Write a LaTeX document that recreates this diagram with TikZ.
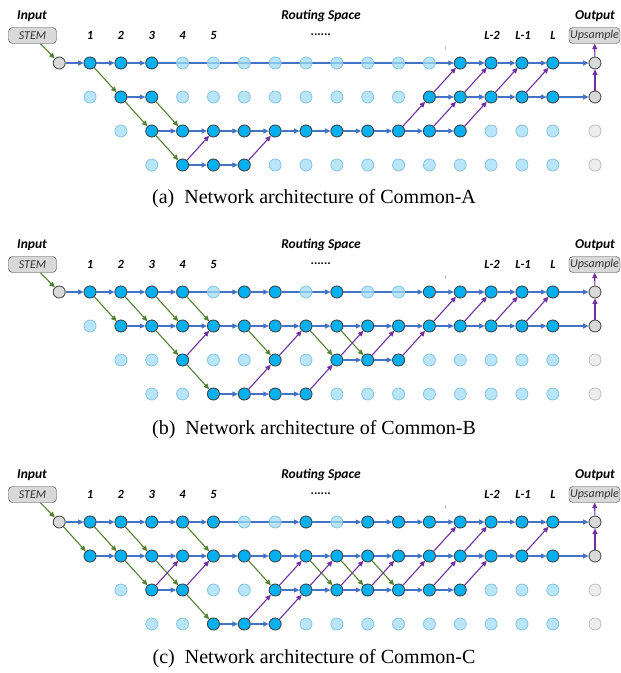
\documentclass[tikz,border=0pt]{standalone}
\usepackage{fontspec}
\setmainfont{Liberation Serif}
\newfontfamily\labelfont{Carlito}
\usetikzlibrary{arrows.meta}

\definecolor{flowblue}{HTML}{4472C4}
\definecolor{downgreen}{HTML}{548235}
\definecolor{uppurple}{HTML}{7030A0}
\definecolor{cellon}{HTML}{00B0F0}
\definecolor{celloff}{HTML}{A0DCF5}
\definecolor{celloffline}{HTML}{86C4E0}

\pgfdeclarelayer{edges}
\pgfsetlayers{edges,main}

\tikzset{
  cell/.style={circle, draw=black!75, line width=0.8pt, fill=cellon,
    minimum size=12pt, inner sep=0pt},
  idle/.style={cell, draw=celloffline, fill=celloff, fill opacity=0.75},
  gate/.style={cell, fill=black!15},
  gateoff/.style={cell, draw=black!25, fill=black!7},
  opbox/.style={draw=black!75, fill=black!15, rounded corners=4pt,
    minimum width=48pt, minimum height=16pt, inner sep=0pt, text=black!80,
    font=\labelfont\itshape\fontsize{12}{13}\selectfont},
  hdr/.style={font=\labelfont\bfseries\itshape\fontsize{13.5}{15}\selectfont},
  colnum/.style={font=\labelfont\bfseries\itshape\fontsize{12.5}{14}\selectfont},
  captext/.style={font=\fontsize{20}{24}\selectfont},
  fwdedge/.style={draw=flowblue, line width=1.1pt,
    -{Triangle[length=5.5pt,width=5pt]}},
  downedge/.style={fwdedge, draw=downgreen},
  upedge/.style={fwdedge, draw=uppurple},
}

% routing grid with its header, #1 = prefix of the node names
\newcommand\routegrid[1]{%
  \node[gate] (#1-0-0) at (59.2,63) {};
  \foreach \r/\s in {0/1,1/1,2/2,3/3}
    \foreach \c in {\s,...,16}
      \node[idle] (#1-\c-\r) at (59.2+30.85*\c,63+34*\r) {};
  \foreach \r in {0,1} \node[gate] (#1-17-\r) at (595,63+34*\r) {};
  \foreach \r in {2,3} \node[gateoff] (#1-17-\r) at (595,63+34*\r) {};
  % header
  \node[hdr] at (32,16) {Input};
  \node[opbox] (#1-stem) at (32.5,35.5) {STEM};
  \node[hdr] at (321,16) {Routing Space};
  \node[hdr] at (595,16) {Output};
  \node[opbox, minimum width=51pt] (#1-up) at (594.5,35.5) {Upsample};
  \foreach \c in {1,...,5} \node[colnum] at (59.2+30.85*\c,35.5) {\c};
  \node[colnum] at (321,35) {......};
  \node[colnum] at (492,35.5) {L-2};
  \node[colnum] at (523,35.5) {L-1};
  \node[colnum] at (553,35.5) {L};
  \draw[black!25, line width=0.7pt] (445,46) -- (445,50);
}

\begin{document}
\begin{tikzpicture}[x=1pt, y=-1pt]
  \useasboundingbox (0,0) rectangle (621,673);

  % (a) Common-A
  \routegrid{a}
  \foreach \c in {1,2,3,13,14,15,16} \node[cell] (a-\c-0) at (59.2+30.85*\c,63) {};
  \foreach \c in {2,3,12,13,14,15,16} \node[cell] (a-\c-1) at (59.2+30.85*\c,97) {};
  \foreach \c in {3,...,13} \node[cell] (a-\c-2) at (59.2+30.85*\c,131) {};
  \foreach \c in {4,5,6} \node[cell] (a-\c-3) at (59.2+30.85*\c,165) {};
  \begin{pgfonlayer}{edges}
    \foreach \s/\t in {0-0/1-0,1-0/2-0,2-0/3-0,3-0/13-0,13-0/14-0,14-0/15-0,
        15-0/16-0,16-0/17-0,2-1/3-1,12-1/13-1,13-1/14-1,14-1/15-1,15-1/16-1,
        16-1/17-1,4-3/5-3,5-3/6-3}
      \draw[fwdedge] (a-\s) -- (a-\t);
    \foreach \c [count=\n from 4] in {3,...,12}
      \draw[fwdedge] (a-\c-2) -- (a-\n-2);
    \foreach \s/\t in {stem/0-0,1-0/2-1,2-1/3-2,3-1/4-2,3-2/4-3}
      \draw[downedge] (a-\s) -- (a-\t);
    \foreach \s/\t in {4-3/5-2,6-3/7-2,11-2/12-1,12-2/13-1,13-2/14-1,12-1/13-0,
        13-1/14-0,14-1/15-0,15-1/16-0,17-1/17-0,17-0/up}
      \draw[upedge] (a-\s) -- (a-\t);
  \end{pgfonlayer}
  \node[captext] at (314,199) {(a)\hspace{0.5em}Network architecture of Common-A};

  % (b) Common-B
  \begin{scope}[yshift=-229pt]
    \routegrid{b}
    \foreach \c in {1,2,3,4,6,7,9,12,13,14,15,16} \node[cell] (b-\c-0) at (59.2+30.85*\c,63) {};
    \foreach \c in {2,...,16} \node[cell] (b-\c-1) at (59.2+30.85*\c,97) {};
    \foreach \c in {4,7,9,10,11} \node[cell] (b-\c-2) at (59.2+30.85*\c,131) {};
    \foreach \c in {5,6,7,8} \node[cell] (b-\c-3) at (59.2+30.85*\c,165) {};
    \begin{pgfonlayer}{edges}
      \foreach \s/\t in {0-0/1-0,1-0/2-0,2-0/3-0,3-0/4-0,4-0/6-0,6-0/7-0,7-0/9-0,
          9-0/12-0,12-0/13-0,13-0/14-0,14-0/15-0,15-0/16-0,16-0/17-0,16-1/17-1,
          9-2/10-2,10-2/11-2,5-3/6-3,6-3/7-3,7-3/8-3}
        \draw[fwdedge] (b-\s) -- (b-\t);
      \foreach \c [count=\n from 3] in {2,...,15}
        \draw[fwdedge] (b-\c-1) -- (b-\n-1);
      \foreach \s/\t in {stem/0-0,1-0/2-1,2-0/3-1,3-0/4-1,4-0/5-1,3-1/4-2,
          4-2/5-3,6-1/7-2,8-1/9-2,9-1/10-2}
        \draw[downedge] (b-\s) -- (b-\t);
      \foreach \s/\t in {4-2/5-1,6-3/7-2,7-2/8-1,8-3/9-2,9-2/10-1,10-2/11-1,
          11-2/12-1,12-1/13-0,13-1/14-0,14-1/15-0,15-1/16-0,17-1/17-0,17-0/up}
        \draw[upedge] (b-\s) -- (b-\t);
    \end{pgfonlayer}
    \node[captext] at (314,201) {(b)\hspace{0.5em}Network architecture of Common-B};
  \end{scope}

  % (c) Common-C
  \begin{scope}[yshift=-459pt]
    \routegrid{c}
    \foreach \c in {1,2,3,4,5,8,10,11,12,13,14,15,16} \node[cell] (c-\c-0) at (59.2+30.85*\c,63) {};
    \foreach \c in {1,...,16} \node[cell] (c-\c-1) at (59.2+30.85*\c,97) {};
    \foreach \c in {3,4,7,8,9,10,11,12,13} \node[cell] (c-\c-2) at (59.2+30.85*\c,131) {};
    \foreach \c in {5,6,7} \node[cell] (c-\c-3) at (59.2+30.85*\c,165) {};
    \begin{pgfonlayer}{edges}
      \foreach \s/\t in {0-0/1-0,1-0/2-0,2-0/3-0,3-0/4-0,4-0/5-0,5-0/8-0,8-0/10-0,
          10-0/11-0,11-0/12-0,12-0/13-0,13-0/14-0,14-0/15-0,15-0/16-0,16-0/17-0,
          16-1/17-1,3-2/4-2,5-3/6-3,6-3/7-3}
        \draw[fwdedge] (c-\s) -- (c-\t);
      \foreach \c [count=\n from 2] in {1,...,15}
        \draw[fwdedge] (c-\c-1) -- (c-\n-1);
      \foreach \c [count=\n from 8] in {7,...,12}
        \draw[fwdedge] (c-\c-2) -- (c-\n-2);
      \foreach \s/\t in {stem/0-0,0-0/1-1,1-0/2-1,2-0/3-1,2-1/3-2,3-1/4-2,4-0/5-1,
          4-2/5-3,6-1/7-2,8-1/9-2,9-1/10-2,10-1/11-2}
        \draw[downedge] (c-\s) -- (c-\t);
      \foreach \s/\t in {3-2/4-1,4-2/5-1,6-3/7-2,7-3/8-2,7-2/8-1,8-2/9-1,9-2/10-1,
          10-2/11-1,11-2/12-1,12-2/13-1,13-2/14-1,12-1/13-0,13-1/14-0,15-1/16-0,
          17-1/17-0,17-0/up}
        \draw[upedge] (c-\s) -- (c-\t);
    \end{pgfonlayer}
    \node[captext] at (314,200) {(c)\hspace{0.5em}Network architecture of Common-C};
  \end{scope}
\end{tikzpicture}
\end{document}
